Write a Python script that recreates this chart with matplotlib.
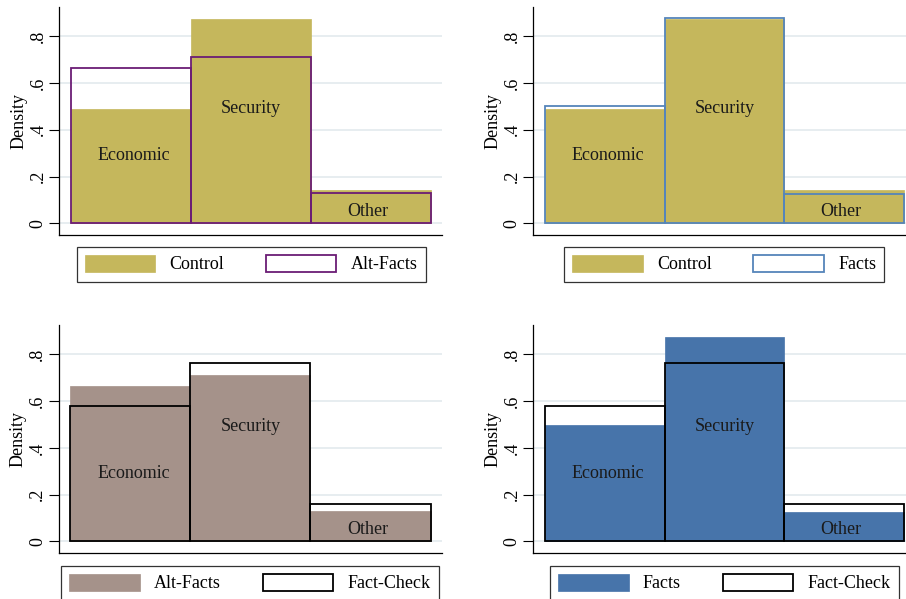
import numpy as np
import matplotlib
matplotlib.use("Agg")
import matplotlib.pyplot as plt
from matplotlib.patches import Patch

plt.rcParams['font.family'] = ['Liberation Serif', 'DejaVu Serif']

# Issue categories and density of each treatment group (three bins on 1..3)
categories = ["Economic", "Security", "Other"]
control = [0.487, 0.873, 0.142]
alt_facts = [0.663, 0.711, 0.128]
facts = [0.500, 0.876, 0.124]
fact_check = [0.579, 0.762, 0.158]

label_x = [1.35, 2.0, 2.65]
label_y = [0.30, 0.50, 0.06]
yticks = [0, 0.2, 0.4, 0.6, 0.8]
ytick_labels = ["0", ".2", ".4", ".6", ".8"]

khaki = "#c5b75c"
purple = "#6b1c75"
steel = "#5585ba"
taupe = "#a5928a"
navy = "#4774aa"
grid_col = "#e3eaee"

W, H = 906, 599
fig = plt.figure(figsize=(W / 100, H / 100), dpi=100)


def px_axes(left, top, right, bottom):
    return fig.add_axes([left / W, 1 - bottom / H, (right - left) / W, (bottom - top) / H])


def panel(ax, filled, fill_col, outlined, line_col, names, legend_xy):
    edges = np.linspace(1, 3, len(categories) + 1)
    width = edges[1] - edges[0]
    ax.bar(edges[:-1], filled, width=width, align='edge', color=fill_col,
           edgecolor=fill_col, linewidth=0.5, zorder=2)
    ax.bar(edges[:-1], outlined, width=width, align='edge', facecolor='none',
           edgecolor=line_col, linewidth=1.3, zorder=3)
    for name, x, y in zip(categories, label_x, label_y):
        ax.text(x, y, name, ha='center', va='center_baseline', fontsize=13,
                color='#1a1a1a', zorder=4)

    ax.set_xlim(0.935, 3.062)
    ax.set_ylim(-0.051, 0.926)
    ax.set_yticks(yticks)
    ax.set_yticklabels(ytick_labels)
    ax.set_xticks([])
    ax.tick_params(axis='y', labelrotation=90, length=7, width=0.8, pad=2, labelsize=13)
    for lab in ax.get_yticklabels():
        lab.set_va('center')
    ax.set_ylabel("Density", fontsize=13, labelpad=2)
    ax.yaxis.grid(True, color=grid_col, linewidth=1.2, zorder=0)
    ax.set_axisbelow(True)
    for side in ['top', 'right']:
        ax.spines[side].set_visible(False)
    for side in ['left', 'bottom']:
        ax.spines[side].set_linewidth(0.9)

    handles = [Patch(facecolor=fill_col, edgecolor=fill_col, linewidth=0.5),
               Patch(facecolor='white', edgecolor=line_col, linewidth=1.3)]
    leg = fig.legend(handles, names, loc='center',
                     bbox_to_anchor=(legend_xy[0] / W, 1 - legend_xy[1] / H),
                     ncol=2, fontsize=13, frameon=True, fancybox=False,
                     handlelength=3.9, handleheight=1.05, handletextpad=0.8,
                     columnspacing=2.3, borderpad=0.45, borderaxespad=0)
    leg.get_frame().set_edgecolor('black')
    leg.get_frame().set_linewidth(0.9)


ax1 = px_axes(59.3, 6.7, 441.7, 235.3)
panel(ax1, control, khaki, alt_facts, purple, ["Control", "Alt-Facts"], (251.2, 264.2))

ax2 = px_axes(533.3, 6.7, 915, 235.3)
panel(ax2, control, khaki, facts, steel, ["Control", "Facts"], (724.3, 264.2))

ax3 = px_axes(58.7, 325, 441.7, 553.3)
panel(ax3, alt_facts, taupe, fact_check, "black", ["Alt-Facts", "Fact-Check"], (250, 583.2))

ax4 = px_axes(533.3, 325, 915, 553.3)
panel(ax4, facts, navy, fact_check, "black", ["Facts", "Fact-Check"], (724.3, 583.2))

fig.savefig("out.png", dpi=100)
